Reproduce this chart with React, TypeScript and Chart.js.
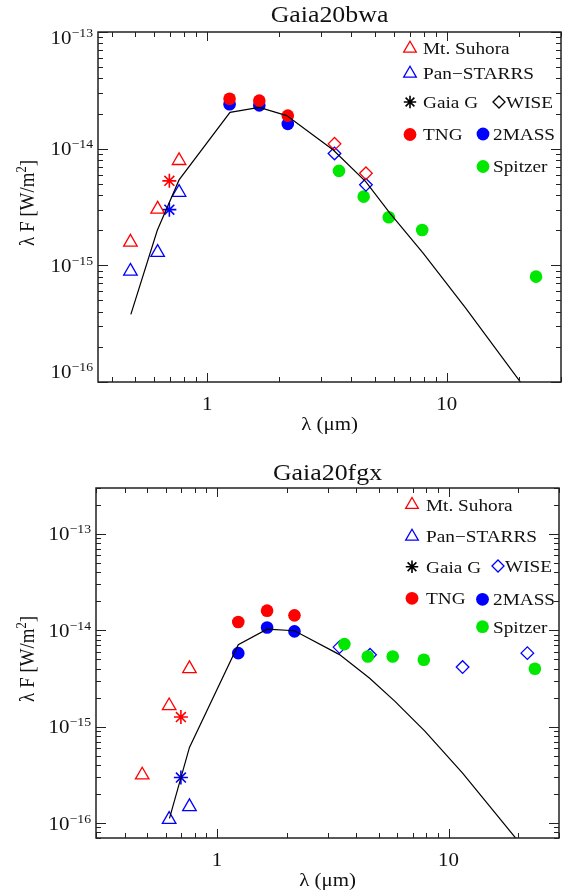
import React, { useEffect, useRef } from 'react';
import { Chart, registerables } from 'chart.js';
Chart.register(...registerables);

// ---------------- Gaia20bwa data ----------------
const bwaSuhoraX = [0.478, 0.621, 0.763];
const bwaSuhoraY = [1.58e-15, 3.03e-15, 7.9e-15];
const bwaPanX = [0.478, 0.621, 0.763];
const bwaPanY = [8.9e-16, 1.29e-15, 4.22e-15];
const bwaGaiaRedX = [0.695];
const bwaGaiaRedY = [5.3e-15];
const bwaGaiaBlueX = [0.695];
const bwaGaiaBlueY = [3.0e-15];
const bwaTngX = [1.24, 1.65, 2.17];
const bwaTngY = [2.68e-14, 2.58e-14, 1.92e-14];
const bwa2massX = [1.24, 1.65, 2.17];
const bwa2massY = [2.4e-14, 2.35e-14, 1.63e-14];
const bwaWiseRedX = [3.4, 4.6];
const bwaWiseRedY = [1.1e-14, 6.15e-15];
const bwaWiseBlueX = [3.4, 4.6];
const bwaWiseBlueY = [9.1e-15, 4.9e-15];
const bwaSpitzerX = [3.55, 4.5, 5.73, 7.9, 23.6];
const bwaSpitzerY = [6.45e-15, 3.88e-15, 2.58e-15, 2.01e-15, 8.0e-16];
const bwaModelX = [0.48, 0.619, 0.763, 1.245, 1.65, 2.147, 3.36, 4.6, 5.79, 7.97, 12, 22];
const bwaModelY = [3.8e-16, 2.0e-15, 5.4e-15, 2.05e-14, 2.26e-14, 1.92e-14, 9.75e-15, 5.2e-15, 2.8e-15, 1.27e-15, 4.3e-16, 8e-17];

// ---------------- Gaia20fgx data ----------------
const fgxSuhoraX = [0.475, 0.621, 0.76];
const fgxSuhoraY = [3.15e-16, 1.65e-15, 4.0e-15];
const fgxPanX = [0.621, 0.76];
const fgxPanY = [1.09e-16, 1.48e-16];
const fgxGaiaRedX = [0.698];
const fgxGaiaRedY = [1.26e-15];
const fgxGaiaBlueX = [0.698];
const fgxGaiaBlueY = [2.97e-16];
const fgxTngX = [1.235, 1.645, 2.16];
const fgxTngY = [1.22e-14, 1.6e-14, 1.43e-14];
const fgx2massX = [1.235, 1.645, 2.16];
const fgx2massY = [5.8e-15, 1.07e-14, 9.75e-15];
const fgxWiseX = [3.38, 4.58, 11.5, 21.9];
const fgxWiseY = [6.7e-15, 5.58e-15, 4.16e-15, 5.8e-15];
const fgxSpitzerX = [3.55, 4.48, 5.74, 7.82, 23.6];
const fgxSpitzerY = [7.2e-15, 5.36e-15, 5.36e-15, 4.95e-15, 4.0e-15];
const fgxModelX = [0.623, 0.76, 1.235, 1.645, 2.16, 3.38, 4.55, 5.87, 7.9, 11.5, 22];
const fgxModelY = [1.12e-16, 6.1e-16, 7.1e-15, 1.03e-14, 9.9e-15, 5.6e-15, 3.2e-15, 1.83e-15, 9.0e-16, 3.3e-16, 4.9e-17];

// ---------------- axes ----------------
const xTickValues = [1, 10];
const xTickLabels = ['1', '10'];
const yTickExponents = [-16, -15, -14, -13];

const RED = '#ff0000';
const BLUE = '#0000ff';
const GREEN = '#00e800';
const FONT = '"Liberation Serif", "Times New Roman", serif';
const STRETCH = 1.1;

const pts = (xs: number[], ys: number[]) => xs.map((x, i) => ({ x, y: ys[i] }));

function tri(data: any, color: string) {
  return { data, pointStyle: 'triangle', pointRadius: 7.8, borderColor: color, backgroundColor: 'rgba(0,0,0,0)', borderWidth: 1.3, order: 1 };
}
function star(data: any, color: string) {
  return { data, pointStyle: 'star', pointRadius: 7, borderColor: color, backgroundColor: color, borderWidth: 1.6, order: 1 };
}
function dot(data: any, color: string) {
  return { data, pointStyle: 'circle', pointRadius: 6.3, borderColor: color, backgroundColor: color, borderWidth: 0, order: 1 };
}
function dia(data: any, color: string) {
  return { data, pointStyle: 'rectRot', pointRadius: 6.3, borderColor: color, backgroundColor: 'rgba(0,0,0,0)', borderWidth: 1.3, order: 1 };
}
function model(data: any) {
  return { data, showLine: true, borderColor: '#000', borderWidth: 1.2, pointRadius: 0, order: 0 };
}

function text(ctx: CanvasRenderingContext2D, s: string, x: number, y: number, size: number, align: 'left' | 'center' | 'right' = 'left') {
  ctx.save();
  ctx.font = `${size}px ${FONT}`;
  ctx.textBaseline = 'alphabetic';
  const w = ctx.measureText(s).width * STRETCH;
  let x0 = x;
  if (align === 'center') x0 = x - w / 2;
  if (align === 'right') x0 = x - w;
  ctx.translate(x0, y);
  ctx.scale(STRETCH, 1);
  ctx.textAlign = 'left';
  ctx.fillText(s, 0, 0);
  ctx.restore();
  return w;
}
function measure(ctx: CanvasRenderingContext2D, s: string, size: number) {
  ctx.save();
  ctx.font = `${size}px ${FONT}`;
  const w = ctx.measureText(s).width * STRETCH;
  ctx.restore();
  return w;
}

function marker(ctx: CanvasRenderingContext2D, shape: string, color: string, x: number, y: number) {
  ctx.save();
  ctx.strokeStyle = color;
  ctx.fillStyle = color;
  ctx.lineWidth = 1.3;
  ctx.beginPath();
  if (shape === 'tri') {
    const r = 7.3;
    ctx.moveTo(x, y - r);
    ctx.lineTo(x + r * 0.866, y + r * 0.5);
    ctx.lineTo(x - r * 0.866, y + r * 0.5);
    ctx.closePath();
    ctx.stroke();
  } else if (shape === 'star') {
    const r = 6.2;
    const d = r * Math.SQRT1_2;
    ctx.lineWidth = 1.6;
    ctx.moveTo(x - r, y); ctx.lineTo(x + r, y);
    ctx.moveTo(x, y - r); ctx.lineTo(x, y + r);
    ctx.moveTo(x - d, y - d); ctx.lineTo(x + d, y + d);
    ctx.moveTo(x - d, y + d); ctx.lineTo(x + d, y - d);
    ctx.stroke();
  } else if (shape === 'dia') {
    const r = 6;
    ctx.moveTo(x - r, y); ctx.lineTo(x, y - r); ctx.lineTo(x + r, y); ctx.lineTo(x, y + r);
    ctx.closePath();
    ctx.stroke();
  } else {
    ctx.arc(x, y, 6.4, 0, Math.PI * 2);
    ctx.fill();
  }
  ctx.restore();
}

function decorPlugin(spec: any) {
  return {
    id: 'decor',
    afterDraw(chart: any) {
      const ctx: CanvasRenderingContext2D = chart.ctx;
      const { left, right, top, bottom } = chart.chartArea;
      const xs = chart.scales.x;
      const ys = chart.scales.y;
      ctx.save();
      ctx.strokeStyle = '#222';
      ctx.fillStyle = '#111';
      ctx.lineWidth = 1;
      ctx.beginPath();
      for (let e = -2; e <= 2; e++) {
        for (let k = 1; k <= 9; k++) {
          const v = k * Math.pow(10, e);
          if (v < xs.min * 0.999 || v > xs.max * 1.001) continue;
          const px = Math.round(xs.getPixelForValue(v)) + 0.5;
          const len = k === 1 ? 9 : 5;
          ctx.moveTo(px, bottom); ctx.lineTo(px, bottom - len);
          ctx.moveTo(px, top); ctx.lineTo(px, top + len);
        }
      }
      for (let e = -18; e <= -12; e++) {
        for (let k = 1; k <= 9; k++) {
          const v = k * Math.pow(10, e);
          if (v < ys.min * 0.999 || v > ys.max * 1.001) continue;
          const py = Math.round(ys.getPixelForValue(v)) + 0.5;
          const len = k === 1 ? 10 : 5;
          ctx.moveTo(left, py); ctx.lineTo(left + len, py);
          ctx.moveTo(right, py); ctx.lineTo(right - len, py);
        }
      }
      ctx.stroke();
      ctx.lineWidth = 1.5;
      ctx.strokeRect(left, top, right - left, bottom - top);

      // x tick labels
      xTickValues.forEach((v, i) => {
        const px = xs.getPixelForValue(v);
        text(ctx, xTickLabels[i], px, bottom + 28, 19, 'center');
      });
      // y tick labels 10^n
      yTickExponents.forEach((e) => {
        const py = ys.getPixelForValue(Math.pow(10, e));
        const cy = Math.min(Math.max(py, top + 5), bottom - 11);
        const exp = '\u2212' + String(-e);
        const wExp = measure(ctx, exp, 12.5);
        const w10 = measure(ctx, '10', 19);
        const xEnd = left - 5;
        text(ctx, '10', xEnd - wExp - w10, cy + 6.5, 19);
        text(ctx, exp, xEnd - wExp, cy - 0.5, 12.5);
      });
      // x title
      text(ctx, '\u03bb (\u03bcm)', (left + right) / 2, bottom + 48, 19, 'center');
      // y title (rotated)
      ctx.save();
      const cyT = (top + bottom) / 2 - 4;
      ctx.translate(33.5, cyT);
      ctx.rotate(-Math.PI / 2);
      ctx.scale(1, 1.1);
      ctx.font = `19px ${FONT}`;
      ctx.textBaseline = 'alphabetic';
      const a = '\u03bb F [W/m';
      const wa = ctx.measureText(a).width;
      ctx.font = `12.5px ${FONT}`;
      const wb = ctx.measureText('2').width;
      ctx.font = `19px ${FONT}`;
      const wc = ctx.measureText(']').width;
      const x0 = -(wa + wb + wc) / 2;
      ctx.fillText(a, x0, 0);
      ctx.font = `12.5px ${FONT}`;
      ctx.fillText('2', x0 + wa, -7);
      ctx.font = `19px ${FONT}`;
      ctx.fillText(']', x0 + wa + wb, 0);
      ctx.restore();

      // title
      text(ctx, spec.title, (left + right) / 2, spec.titleY + 8, 23.5, 'center');

      // legend
      spec.legend.forEach((it: any) => {
        marker(ctx, it.shape, it.color, it.mx, it.my);
        text(ctx, it.text, it.tx, it.my + 5.8, 17.5);
      });
      ctx.restore();
    },
  };
}

function makeConfig(spec: any) {
  return {
    type: 'scatter',
    data: { datasets: spec.datasets },
    options: {
      animation: false,
      responsive: false,
      devicePixelRatio: 1,
      events: [],
      layout: { padding: spec.padding },
      plugins: { legend: { display: false }, tooltip: { enabled: false }, title: { display: false } },
      scales: {
        x: { type: 'logarithmic', min: spec.xMin, max: spec.xMax, display: false },
        y: { type: 'logarithmic', min: spec.yMin, max: spec.yMax, display: false },
      },
    },
    plugins: [decorPlugin(spec)],
  };
}

const bwaSpec = {
  title: 'Gaia20bwa',
  titleY: 14,
  padding: { left: 98, right: 11, top: 32, bottom: 66 },
  xMin: 0.35, xMax: 30, yMin: 1e-16, yMax: 1e-13,
  datasets: [
    model(pts(bwaModelX, bwaModelY)),
    tri(pts(bwaSuhoraX, bwaSuhoraY), RED),
    tri(pts(bwaPanX, bwaPanY), BLUE),
    star(pts(bwaGaiaRedX, bwaGaiaRedY), RED),
    star(pts(bwaGaiaBlueX, bwaGaiaBlueY), BLUE),
    dot(pts(bwaTngX, bwaTngY), RED),
    dot(pts(bwa2massX, bwa2massY), BLUE),
    dia(pts(bwaWiseRedX, bwaWiseRedY), RED),
    dia(pts(bwaWiseBlueX, bwaWiseBlueY), BLUE),
    dot(pts(bwaSpitzerX, bwaSpitzerY), GREEN),
  ],
  legend: [
    { shape: 'tri', color: RED, mx: 410, my: 48.5, text: 'Mt. Suhora', tx: 423 },
    { shape: 'tri', color: BLUE, mx: 410, my: 73.5, text: 'Pan\u2212STARRS', tx: 423 },
    { shape: 'star', color: '#000', mx: 410, my: 102, text: 'Gaia G', tx: 423 },
    { shape: 'dia', color: '#000', mx: 499, my: 102, text: 'WISE', tx: 506 },
    { shape: 'dot', color: RED, mx: 410, my: 134.5, text: 'TNG', tx: 423 },
    { shape: 'dot', color: BLUE, mx: 483, my: 134, text: '2MASS', tx: 493 },
    { shape: 'dot', color: GREEN, mx: 483, my: 166.5, text: 'Spitzer', tx: 493 },
  ],
};

const fgxSpec = {
  title: 'Gaia20fgx',
  titleY: 23.7,
  padding: { left: 96, right: 13, top: 40, bottom: 58 },
  xMin: 0.3, xMax: 30, yMin: 7e-17, yMax: 3e-13,
  datasets: [
    model(pts(fgxModelX, fgxModelY)),
    tri(pts(fgxSuhoraX, fgxSuhoraY), RED),
    tri(pts(fgxPanX, fgxPanY), BLUE),
    star(pts(fgxGaiaRedX, fgxGaiaRedY), RED),
    star(pts(fgxGaiaBlueX, fgxGaiaBlueY), BLUE),
    dot(pts(fgxTngX, fgxTngY), RED),
    dot(pts(fgx2massX, fgx2massY), BLUE),
    dot(pts(fgxSpitzerX, fgxSpitzerY), GREEN),
    dia(pts(fgxWiseX, fgxWiseY), BLUE),
  ],
  legend: [
    { shape: 'tri', color: RED, mx: 412, my: 56.8, text: 'Mt. Suhora', tx: 426 },
    { shape: 'tri', color: BLUE, mx: 412, my: 88.5, text: 'Pan\u2212STARRS', tx: 426 },
    { shape: 'star', color: '#000', mx: 412, my: 118.7, text: 'Gaia G', tx: 426 },
    { shape: 'dia', color: BLUE, mx: 498, my: 118, text: 'WISE', tx: 505 },
    { shape: 'dot', color: RED, mx: 412, my: 150.3, text: 'TNG', tx: 426 },
    { shape: 'dot', color: BLUE, mx: 482.5, my: 151.3, text: '2MASS', tx: 493 },
    { shape: 'dot', color: GREEN, mx: 482.5, my: 178.7, text: 'Spitzer', tx: 493 },
  ],
};

export default function App() {
  const r1 = useRef<HTMLCanvasElement>(null);
  const r2 = useRef<HTMLCanvasElement>(null);
  useEffect(() => {
    const c1 = new Chart(r1.current as HTMLCanvasElement, makeConfig(bwaSpec) as any);
    const c2 = new Chart(r2.current as HTMLCanvasElement, makeConfig(fgxSpec) as any);
    return () => {
      c1.destroy();
      c2.destroy();
    };
  }, []);
  return (
    <div style={{ position: 'absolute', left: 0, top: 0, width: 572, height: 896, background: '#fff' }}>
      <canvas ref={r1} width={572} height={448} style={{ position: 'absolute', left: 0, top: 0, width: 572, height: 448 }} />
      <canvas ref={r2} width={572} height={448} style={{ position: 'absolute', left: 0, top: 448, width: 572, height: 448 }} />
    </div>
  );
}
